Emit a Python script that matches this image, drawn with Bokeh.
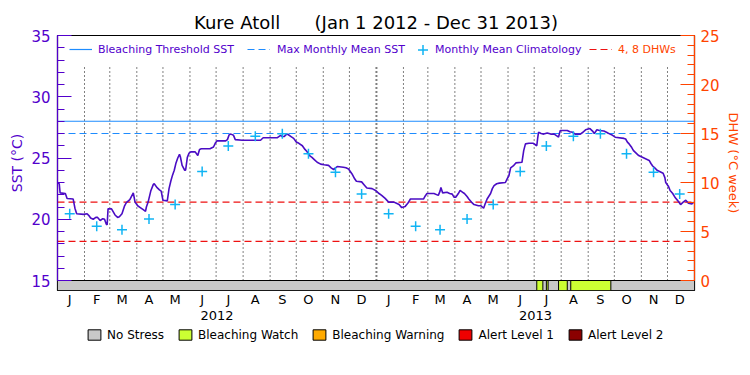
import pandas as pd
from bokeh.plotting import figure
from bokeh.layouts import column
from bokeh.models import (Range1d, LinearAxis, FixedTicker, SingleIntervalTicker,
                          Legend, LegendItem)
from bokeh.embed import file_html
from bokeh.resources import INLINE

# ---------------- data ----------------
title_text = "Kure Atoll" + "\u00a0" * 6 + "(Jan 1 2012 - Dec 31 2013)"
period_start = "2012-01-01"
period_end = "2014-01-01"
month_labels = ["J", "F", "M", "A", "M", "J", "J", "A", "S", "O", "N", "D"]
year_labels = ["2012", "2013"]
sst_axis_label = "SST (°C)"
dhw_axis_label = "DHW (°C week)"

threshold_sst = 28.0          # bleaching threshold SST
mmm_sst = 27.0                # max monthly mean SST
dhw_levels = [4, 8]           # DHW reference lines

# monthly mean climatology (Jan..Dec), plotted mid-month each year
climatology_sst = [20.44, 19.42, 19.14, 20.03, 21.20, 23.90,
                   25.97, 26.77, 26.97, 25.34, 23.84, 22.07]

# daily SST (days since 1 Jan 2012)
sst_day = [0, 2, 3, 9, 11, 18, 20, 22, 30, 34, 36, 38, 41, 44, 46, 49, 52, 54, 56, 57,
           58, 62, 64, 66, 69, 71, 74, 77, 79, 83, 87, 89, 92, 95, 98, 101, 102, 104, 107, 110,
           111, 114, 117, 119, 121, 126, 128, 130, 132, 134, 136, 138, 140, 141, 143, 146, 147, 149, 151, 153,
           158, 160, 161, 163, 165, 175, 179, 181, 183, 193, 195, 197, 199, 202, 204, 212, 233, 236, 252, 254,
           256, 258, 260, 263, 265, 268, 271, 274, 277, 281, 284, 286, 288, 290, 292, 295, 298, 302, 306, 311,
           314, 317, 319, 321, 328, 331, 334, 336, 338, 341, 343, 349, 352, 355, 361, 365,
           369, 372, 376, 380, 386, 389, 392, 395, 399, 402, 405, 420, 422, 424, 432, 437, 439, 440, 442, 447,
           450, 453, 455, 457, 460, 462, 465, 467, 470, 472, 475, 478, 483, 486, 489, 491, 493, 497, 499, 501,
           504, 507, 514, 516, 518, 520, 523, 526, 533, 535, 537, 541, 546, 548, 550, 551, 552, 555, 558, 562,
           566, 570, 573, 575, 576, 577, 585, 588, 591, 594, 600, 603, 606, 611, 614, 616, 619, 622, 627, 630,
           634, 637, 640, 650, 652, 654, 656, 659, 661, 664, 667, 673, 676, 679, 681, 683, 686, 688, 695, 697,
           698, 701, 703, 706, 709, 712, 715, 718, 721, 724, 728, 730]
sst_value = [22.95, 22.90, 22.15, 22.10, 21.70, 21.65, 20.90, 20.45, 20.40, 20.45, 20.30, 20.10, 20.00, 20.15, 20.15, 19.90, 20.05, 20.00, 19.60, 19.55,
             20.85, 20.85, 20.60, 20.35, 20.15, 20.20, 20.45, 21.10, 21.35, 21.60, 22.15, 21.40, 21.10, 20.95, 20.80, 20.65, 21.00, 21.40, 22.30, 22.85,
             22.90, 22.60, 22.40, 22.30, 21.55, 21.50, 22.50, 23.10, 23.60, 24.00, 24.60, 25.00, 25.30, 25.10, 24.40, 24.00, 24.00, 25.05, 25.40, 25.50,
             25.50, 25.30, 25.20, 25.70, 25.75, 25.75, 25.90, 26.20, 26.40, 26.40, 26.50, 26.90, 26.95, 26.85, 26.50, 26.45, 26.45, 26.65, 26.65, 26.75,
             26.85, 26.75, 26.75, 26.95, 26.90, 26.75, 26.60, 26.30, 26.20, 26.00, 25.70, 25.55, 25.35, 25.15, 25.05, 24.85, 24.65, 24.50, 24.45, 24.40,
             24.20, 24.05, 24.20, 24.30, 24.25, 24.20, 24.10, 23.90, 23.70, 23.30, 23.10, 23.05, 22.80, 22.55, 22.50, 22.35,
             22.10, 21.95, 21.70, 21.40, 21.40, 21.30, 21.20, 20.95, 21.05, 21.30, 21.65, 21.65, 21.90, 22.10, 22.10, 21.95, 22.30, 22.60, 22.15, 22.20,
             22.10, 22.05, 21.80, 21.80, 22.10, 22.35, 22.20, 22.10, 21.85, 21.65, 21.40, 21.20, 21.10, 21.10, 20.90, 21.30, 21.65, 22.10, 22.50, 22.75,
             22.90, 22.95, 23.00, 23.30, 23.55, 24.20, 24.35, 24.60, 24.65, 25.60, 26.15, 26.20, 26.20, 26.10, 26.00, 26.60, 27.10, 27.00, 26.95, 27.05,
             26.95, 26.95, 26.80, 26.70, 27.00, 27.25, 27.25, 27.15, 27.10, 26.95, 26.95, 27.10, 27.30, 27.40, 27.20, 27.00, 27.30, 27.25, 27.20, 27.10,
             26.95, 26.85, 26.70, 26.60, 26.55, 26.30, 26.15, 25.85, 25.60, 25.40, 25.20, 25.00, 24.90, 24.80, 24.55, 24.35, 24.15, 24.00, 23.75, 23.40,
             23.00, 22.70, 22.35, 22.10, 21.75, 21.50, 21.20, 21.40, 21.55, 21.30, 21.25, 21.40]

stress_levels = ["No Stress", "Bleaching Watch", "Bleaching Warning", "Alert Level 1", "Alert Level 2"]
stress_colors = ["#c8c8c8", "#ccff33", "#ffaa00", "#ee0000", "#8b0000"]
watch_start = ["2013-07-04", "2013-07-15", "2013-07-29", "2013-08-12"]
watch_end = ["2013-07-11", "2013-07-17", "2013-08-08", "2013-09-27"]

# ---------------- styles ----------------
FONT = "DejaVu Sans"
PURPLE = "#5200cc"
LINE_PURPLE = "#4a0cc4"
ORANGE = "#ff4400"
BLUE = "#1e8cff"
CYAN = "#10b4f4"
RED = "#ee1111"

T0 = pd.Timestamp(period_start)


def day(d):
    return int((pd.Timestamp(d) - T0).days)


x_end = day(period_end)
month_starts = pd.date_range(period_start, "2013-12-31", freq="MS")
month_mid = [day(m) + 14 for m in month_starts]
inner_month_starts = [day(m) for m in month_starts[1:] if m.month != 1]
year_starts = [day(m) for m in month_starts[1:] if m.month == 1]
year_bounds = [day(f"{y}-01-01") for y in year_labels] + [x_end]
year_mid = [(year_bounds[i] + year_bounds[i + 1]) / 2 for i in range(len(year_labels))]
clim_x = month_mid
clim_y = climatology_sst * len(year_labels)

# SST 15..35 and DHW 0..25 share the same pixel span; a strip below holds stress levels
SST_MIN, SST_MAX = 15, 35
DHW_MIN, DHW_MAX = 0, 25
STRIP = 10 / 245.0
sst_lo = SST_MIN - (SST_MAX - SST_MIN) * STRIP
dhw_lo = DHW_MIN - (DHW_MAX - DHW_MIN) * STRIP
dotted_top = SST_MAX - (SST_MAX - SST_MIN) * 30 / 245.0

p = figure(frame_width=637, frame_height=255, output_backend="svg", toolbar_location=None,
           x_range=Range1d(0, x_end), y_range=Range1d(sst_lo, SST_MAX),
           min_border_left=57, min_border_right=50, min_border_top=35, min_border_bottom=34)
p.extra_y_ranges = {"dhw": Range1d(dhw_lo, DHW_MAX)}
p.outline_line_color = "black"
p.outline_line_width = 1.2
p.xgrid.visible = False
p.ygrid.visible = False
p.background_fill_color = "white"
p.border_fill_color = "white"

p.title.text = title_text
p.title.align = "center"
p.title.text_font = FONT
p.title.text_font_size = "18px"
p.title.text_font_style = "normal"
p.title.text_color = "black"
p.title.standoff = 6

# stress strip
p.quad(left=[0], right=[x_end], bottom=[sst_lo], top=[SST_MIN],
       fill_color=stress_colors[0], line_color="black", line_width=1)
p.quad(left=[day(s) for s in watch_start], right=[day(e) for e in watch_end],
       bottom=[sst_lo] * len(watch_start), top=[SST_MIN] * len(watch_start),
       fill_color=stress_colors[1], line_color="black", line_width=1)

# month separators
p.segment(x0=inner_month_starts, y0=[SST_MIN] * len(inner_month_starts),
          x1=inner_month_starts, y1=[dotted_top] * len(inner_month_starts),
          line_color="black", line_dash="1 3", line_width=1)
p.segment(x0=year_starts, y0=[SST_MIN] * len(year_starts),
          x1=year_starts, y1=[dotted_top] * len(year_starts),
          line_color="black", line_dash="1 3", line_width=2)

# reference lines
r_dhw = p.multi_line(xs=[[0, x_end] for _ in dhw_levels], ys=[[v, v] for v in dhw_levels],
                     y_range_name="dhw", line_color=RED, line_dash="7 4", line_width=1.2)
r_thr = p.line(x=[0, x_end], y=[threshold_sst, threshold_sst], line_color=BLUE, line_width=1.2)
r_mmm = p.line(x=[0, x_end], y=[mmm_sst, mmm_sst], line_color=BLUE, line_width=1.2, line_dash="7 4")

# SST series
p.line(x=sst_day, y=sst_value, line_color=LINE_PURPLE, line_width=1.6)

# climatology
r_clim = p.scatter(x=clim_x, y=clim_y, marker="cross", size=10, line_color=CYAN, line_width=1.5)

# left axis (SST)
ya = p.yaxis[0]
ya.ticker = SingleIntervalTicker(interval=5, num_minor_ticks=5)
ya.bounds = (SST_MIN, SST_MAX)
ya.axis_line_color = PURPLE
ya.axis_line_width = 1.2
ya.major_tick_line_color = PURPLE
ya.minor_tick_line_color = PURPLE
ya.major_tick_in = 14
ya.major_tick_out = 0
ya.minor_tick_in = 7
ya.minor_tick_out = 0
ya.major_label_standoff = 7
ya.major_label_text_color = PURPLE
ya.major_label_text_font = FONT
ya.major_label_text_font_size = "15px"
ya.axis_label = sst_axis_label
ya.axis_label_text_color = PURPLE
ya.axis_label_text_font = FONT
ya.axis_label_text_font_size = "14px"
ya.axis_label_text_font_style = "normal"
ya.axis_label_standoff = 3

# right axis (DHW)
ra = LinearAxis(y_range_name="dhw", ticker=SingleIntervalTicker(interval=5, num_minor_ticks=5),
                bounds=(DHW_MIN, DHW_MAX))
ra.axis_line_color = ORANGE
ra.axis_line_width = 1.2
ra.major_tick_line_color = ORANGE
ra.minor_tick_line_color = ORANGE
ra.major_tick_in = 14
ra.major_tick_out = 0
ra.minor_tick_in = 7
ra.minor_tick_out = 0
ra.major_label_standoff = 6
ra.major_label_text_color = ORANGE
ra.major_label_text_font = FONT
ra.major_label_text_font_size = "15px"
ra.axis_label = dhw_axis_label
ra.axis_label_text_color = ORANGE
ra.axis_label_text_font = FONT
ra.axis_label_text_font_size = "13px"
ra.axis_label_text_font_style = "normal"
ra.axis_label_standoff = 3
p.add_layout(ra, "right")


def bare_axis(ax):
    ax.axis_line_color = None
    ax.major_tick_line_color = None
    ax.minor_tick_line_color = None
    ax.major_tick_in = 0
    ax.major_tick_out = 0
    ax.minor_tick_in = 0
    ax.minor_tick_out = 0
    ax.major_label_standoff = 1
    ax.major_label_text_font = FONT
    ax.major_label_text_font_size = "13px"
    ax.major_label_text_color = "black"


# bottom: months
xa = p.xaxis[0]
xa.ticker = FixedTicker(ticks=month_mid)
xa.major_label_overrides = {t: month_labels[i % 12] for i, t in enumerate(month_mid)}
bare_axis(xa)

# bottom: years
xa2 = LinearAxis(ticker=FixedTicker(ticks=year_mid),
                 major_label_overrides={t: year_labels[i] for i, t in enumerate(year_mid)})
bare_axis(xa2)
p.add_layout(xa2, "below")


def make_legend(plot, items, loc, color, gw, gh, standoff, size, spacing=0):
    lg = Legend(items=items, location=loc,
                orientation="horizontal", background_fill_alpha=0, border_line_color=None,
                padding=0, margin=0, spacing=spacing, glyph_width=gw, glyph_height=gh, label_height=gh,
                label_standoff=standoff, label_text_font=FONT, label_text_font_size=size,
                label_text_color=color, inactive_fill_alpha=0)
    plot.add_layout(lg)
    return lg


make_legend(p, [LegendItem(label="Bleaching Threshold SST", renderers=[r_thr])], (12, 234), PURPLE, 23, 14, 6, "11px")
make_legend(p, [LegendItem(label="Max Monthly Mean SST", renderers=[r_mmm])], (190, 234), PURPLE, 23, 14, 7, "11px")
make_legend(p, [LegendItem(label="Monthly Mean Climatology", renderers=[r_clim])], (353, 228.5), PURPLE, 25, 25, 0, "11px")
make_legend(p, [LegendItem(label="4, 8 DHWs", renderers=[r_dhw])], (532, 234), ORANGE, 23, 14, 6, "11px")

# stress-level key below the chart (its frame is aligned with the chart frame)
key = figure(width=744, height=22, output_backend="svg", toolbar_location=None,
             x_axis_type=None, y_axis_type=None, x_range=Range1d(0, x_end), y_range=Range1d(0, 1),
             min_border=0, min_border_left=0, min_border_right=0, min_border_top=0, min_border_bottom=0)
key.title.visible = False
key.outline_line_color = None
key.background_fill_color = "white"
key.border_fill_color = "white"
key_renderers = []
for lvl, col in zip(stress_levels, stress_colors):
    r = key.quad(left=[0], right=[x_end], bottom=[0], top=[1],
                 fill_color=col, line_color="black", line_width=1)
    r.visible = False
    key_renderers.append(r)
make_legend(key, [LegendItem(label=lvl, renderers=[r]) for lvl, r in zip(stress_levels, key_renderers)],
            (29, 4.5), "black", 16, 13, 5, "12px", spacing=13)

layout = column(p, key)
open("out.html", "w").write(file_html(layout, INLINE))
